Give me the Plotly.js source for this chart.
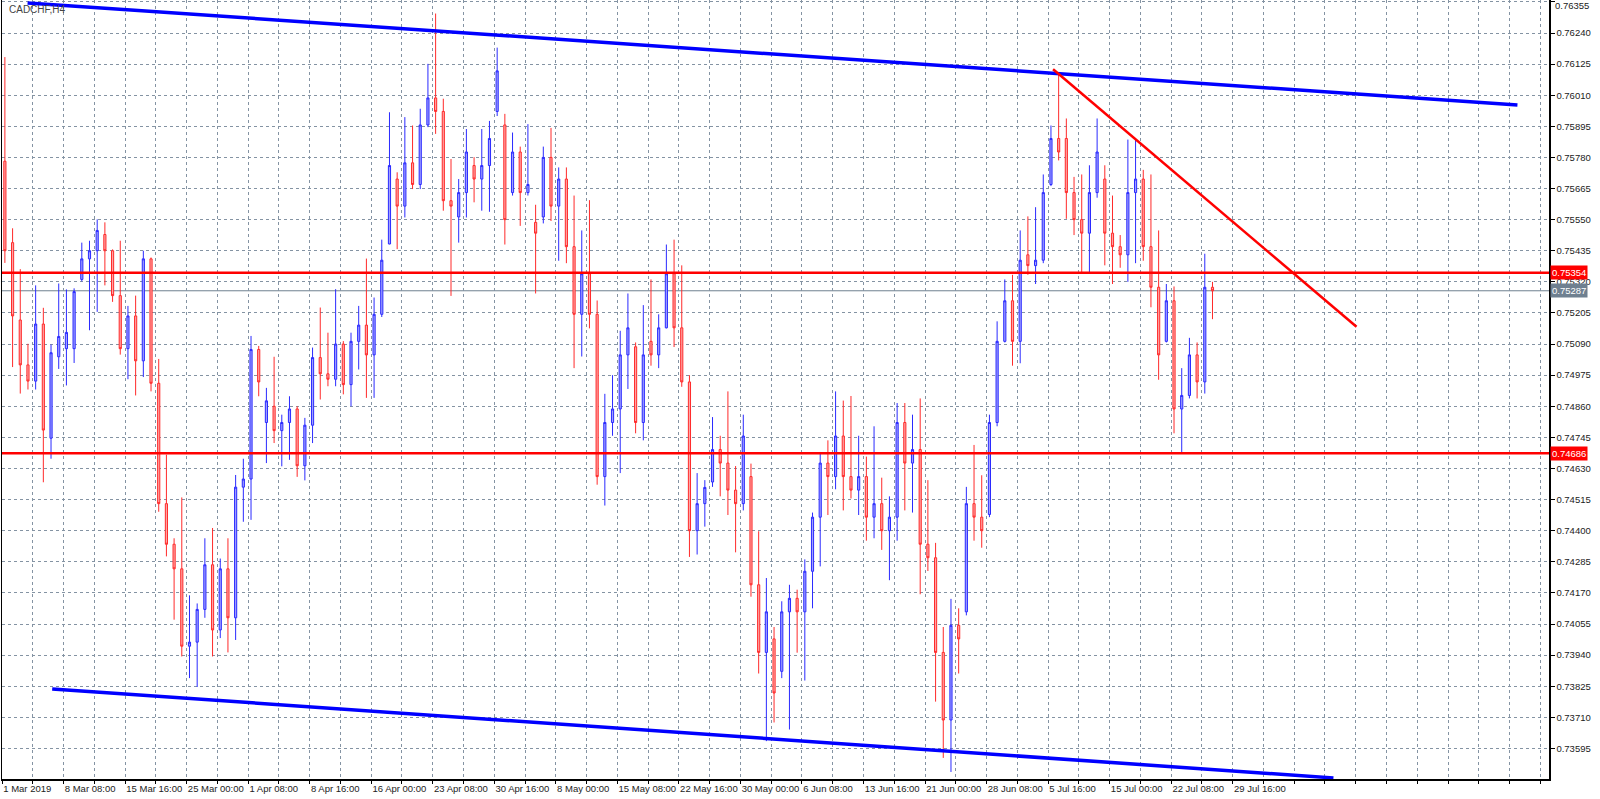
<!DOCTYPE html>
<html><head><meta charset="utf-8">
<script src="https://cdn.plot.ly/plotly-3.0.1.min.js"></script>
<style>html,body{margin:0;padding:0;background:#fff;}#chart{width:1600px;height:799px;}</style>
</head><body><div id="chart"></div>
<script>
const symbolTitle = 'CADCHF,H4';
const timeLabels = ['1 Mar 2019','8 Mar 08:00','15 Mar 16:00','25 Mar 00:00','1 Apr 08:00','8 Apr 16:00','16 Apr 00:00','23 Apr 08:00','30 Apr 16:00','8 May 00:00','15 May 08:00','22 May 16:00','30 May 00:00','6 Jun 08:00','13 Jun 16:00','21 Jun 00:00','28 Jun 08:00','5 Jul 16:00','15 Jul 00:00','22 Jul 08:00','29 Jul 16:00'];
const barsPerLabel = 32;      // H4 bars between two time labels
const barsPerCandle = 4;      // each drawn candle groups four H4 bars

const open = [
0.75766,0.75465,0.75179,0.75013,0.74953,0.75164,0.74742,0.75043,0.75073,0.75073,
0.75329,0.75405,0.75435,0.75495,0.75435,0.75269,0.75073,0.75194,0.75028,0.75405,
0.74945,0.74500,0.74350,0.74259,0.73973,0.73988,0.74109,0.74274,0.74033,0.74259,
0.74078,0.74561,0.74591,0.75070,0.74800,0.74860,0.74770,0.74800,0.74850,0.74640,
0.74790,0.75040,0.74980,0.74960,0.75090,0.74940,0.75100,0.75160,0.75050,0.75200,
0.75460,0.75700,0.75600,0.75760,0.75680,0.75900,0.76000,0.75950,0.75620,0.75560,
0.75650,0.75750,0.75700,0.75750,0.75950,0.75900,0.75650,0.75800,0.75650,0.75540,
0.75560,0.75780,0.75600,0.75700,0.75450,0.75200,0.75350,0.75200,0.74600,0.74800,
0.74850,0.75050,0.75080,0.74800,0.75100,0.75050,0.75150,0.75350,0.75150,0.74950,
0.74400,0.74500,0.74580,0.74700,0.74650,0.74550,0.74500,0.74600,0.74200,0.73950,
0.74000,0.73880,0.74100,0.74150,0.74100,0.74250,0.74450,0.74650,0.74600,0.74750,
0.74600,0.74550,0.74600,0.74450,0.74500,0.74400,0.74450,0.74800,0.74650,0.74700,
0.74350,0.74300,0.73950,0.73700,0.74050,0.74100,0.74500,0.74450,0.74460,0.74800,
0.75100,0.75250,0.75100,0.75420,0.75380,0.75400,0.75680,0.75850,0.75850,0.75650,
0.75550,0.75500,0.75650,0.75700,0.75500,0.75450,0.75420,0.75650,0.75700,0.75450,
0.75300,0.75100,0.75250,0.74850,0.74900,0.75050,0.74950,0.75300];
const high = [
0.76151,0.75518,0.75367,0.75091,0.75307,0.75224,0.75088,0.75314,0.75292,0.75296,
0.75465,0.75472,0.75551,0.75540,0.75440,0.75472,0.75231,0.75269,0.75435,0.75410,
0.75035,0.74681,0.74372,0.74523,0.74161,0.74131,0.74372,0.74410,0.74297,0.74372,
0.74606,0.74666,0.75120,0.75083,0.74928,0.75043,0.74829,0.74897,0.74860,0.74817,
0.75077,0.75225,0.75132,0.75293,0.75101,0.75132,0.75231,0.75406,0.75262,0.75476,
0.75947,0.75725,0.75929,0.75898,0.75960,0.76126,0.76312,0.75997,0.75774,0.75700,
0.75885,0.75781,0.75885,0.75915,0.76186,0.75941,0.75872,0.75820,0.75903,0.75605,
0.75820,0.75889,0.75743,0.75743,0.75639,0.75510,0.75622,0.75251,0.74906,0.74975,
0.75139,0.75277,0.75096,0.75234,0.75329,0.75200,0.75458,0.75476,0.75381,0.74975,
0.74613,0.74587,0.74820,0.74751,0.74915,0.74639,0.74829,0.74648,0.74398,0.74225,
0.74044,0.74139,0.74200,0.74182,0.74294,0.74467,0.74691,0.74734,0.74915,0.74881,
0.74898,0.74751,0.74674,0.74786,0.74596,0.74527,0.74872,0.74872,0.74829,0.74889,
0.74587,0.74355,0.74044,0.74148,0.74113,0.74562,0.74717,0.74605,0.74829,0.75174,
0.75329,0.75346,0.75510,0.75562,0.75596,0.75717,0.75898,0.76088,0.75924,0.75708,
0.75717,0.75751,0.75924,0.75751,0.75639,0.75493,0.75846,0.75846,0.75734,0.75717,
0.75510,0.75312,0.75303,0.75001,0.75113,0.75096,0.75424,0.75320];
const low = [
0.75390,0.75005,0.74907,0.74922,0.74922,0.74579,0.74666,0.74998,0.74937,0.75020,
0.75322,0.75141,0.75209,0.75307,0.75246,0.75051,0.74960,0.74900,0.74968,0.74915,
0.74470,0.74305,0.74071,0.73935,0.73855,0.73822,0.74078,0.73935,0.74003,0.73950,
0.73996,0.74433,0.74440,0.74897,0.74650,0.74724,0.74638,0.74662,0.74599,0.74586,
0.74724,0.74885,0.74934,0.74934,0.74904,0.74860,0.74996,0.74891,0.74891,0.75190,
0.75459,0.75441,0.75558,0.75663,0.75663,0.75892,0.75867,0.75583,0.75268,0.75465,
0.75558,0.75614,0.75583,0.75579,0.75933,0.75458,0.75639,0.75527,0.75639,0.75277,
0.75536,0.75545,0.75398,0.75389,0.75001,0.75044,0.75148,0.74570,0.74493,0.74751,
0.74613,0.74924,0.74760,0.74734,0.75010,0.75001,0.75148,0.75079,0.74932,0.74303,
0.74312,0.74415,0.74562,0.74527,0.74458,0.74320,0.74475,0.74156,0.73872,0.73622,
0.73691,0.73855,0.73665,0.73949,0.73846,0.74113,0.74268,0.74458,0.74553,0.74475,
0.74519,0.74458,0.74363,0.74372,0.74329,0.74217,0.74363,0.74475,0.74467,0.74165,
0.74251,0.73768,0.73560,0.73508,0.73872,0.74087,0.74363,0.74337,0.74450,0.74786,
0.75096,0.75010,0.75019,0.75346,0.75312,0.75389,0.75674,0.75769,0.75553,0.75493,
0.75355,0.75355,0.75631,0.75381,0.75312,0.75372,0.75320,0.75389,0.75398,0.75226,
0.74958,0.75096,0.74760,0.74691,0.74889,0.74889,0.74907,0.75182];
const close = [
0.75435,0.75194,0.75013,0.74953,0.75164,0.74772,0.75058,0.75118,0.75133,0.75284,
0.75405,0.75435,0.75510,0.75435,0.75269,0.75073,0.75194,0.75028,0.75405,0.74945,
0.74500,0.74350,0.74259,0.73973,0.73988,0.74109,0.74274,0.74033,0.74259,0.74078,
0.74561,0.74591,0.75070,0.74950,0.74880,0.74770,0.74800,0.74850,0.74640,0.74790,
0.75040,0.74980,0.74960,0.75090,0.74940,0.75100,0.75160,0.75050,0.75200,0.75400,
0.75750,0.75600,0.75760,0.75680,0.75900,0.76000,0.75950,0.75620,0.75600,0.75650,
0.75800,0.75700,0.75750,0.75850,0.76100,0.75550,0.75800,0.75650,0.75680,0.75500,
0.75780,0.75600,0.75700,0.75450,0.75200,0.75350,0.75200,0.74600,0.74800,0.74850,
0.75050,0.75150,0.74800,0.75050,0.75050,0.75150,0.75350,0.75150,0.74950,0.74400,
0.74500,0.74560,0.74700,0.74650,0.74550,0.74500,0.74750,0.74200,0.73950,0.74100,
0.73800,0.74100,0.74150,0.74100,0.74250,0.74450,0.74650,0.74600,0.74750,0.74600,
0.74550,0.74600,0.74450,0.74500,0.74400,0.74450,0.74800,0.74650,0.74700,0.74350,
0.74300,0.73950,0.73700,0.74050,0.74000,0.74500,0.74450,0.74400,0.74800,0.75100,
0.75250,0.75100,0.75400,0.75380,0.75400,0.75650,0.75850,0.75800,0.75650,0.75550,
0.75500,0.75650,0.75800,0.75500,0.75450,0.75420,0.75650,0.75700,0.75450,0.75300,
0.75050,0.75250,0.74850,0.74900,0.75050,0.74950,0.75300,0.75287];

const priceTicks = [0.73595,0.73710,0.73825,0.73940,0.74055,0.74170,0.74285,0.74400,0.74515,0.74630,0.74745,0.74860,0.74975,0.75090,0.75205,0.75320,0.75435,0.75550,0.75665,0.75780,0.75895,0.76010,0.76125,0.76240,0.76355];
const levelLines = [0.75354, 0.74686];
const bidPrice = 0.75287;
// trend lines: [bar index], [price]
const upperChannelX = [13.3, 788.1];
const upperChannelY = [0.76351, 0.75974];
const lowerChannelX = [26.1, 692.4];
const lowerChannelY = [0.73815, 0.73486];
const redTrendX = [546.6, 704.4];
const redTrendY = [0.76106, 0.75154];

const candleX = open.map((_, i) => i * barsPerCandle + 1.5);

const gridTickVals = [], gridTickText = [];
for (let k = 0; k <= 50; k++) {
  gridTickVals.push(k * barsPerLabel / 2);
  gridTickText.push(k % 2 === 0 && timeLabels[k / 2] ? timeLabels[k / 2] : '');
}
// the top price label sits at the very edge: it is drawn as an annotation below
const topPrice = priceTicks[priceTicks.length - 1];
const priceTickText = priceTicks.map(v => v === topPrice ? '' : v.toFixed(5));

const gridColor = '#8493a3';
const fontFam = 'Liberation Sans, Arial, sans-serif';

const traces = [
  {
    type: 'candlestick', x: candleX, open: open, high: high, low: low, close: close,
    increasing: {line: {color: '#2a2aff', width: 1}, fillcolor: '#a0a0ff'},
    decreasing: {line: {color: '#ff2a2a', width: 1}, fillcolor: '#ffa4a4'},
    whiskerwidth: 0, hoverinfo: 'skip', showlegend: false
  },
  {type: 'scatter', mode: 'lines', x: upperChannelX, y: upperChannelY, line: {color: '#0000ff', width: 3.5}, hoverinfo: 'skip', showlegend: false},
  {type: 'scatter', mode: 'lines', x: lowerChannelX, y: lowerChannelY, line: {color: '#0000ff', width: 3.5}, hoverinfo: 'skip', showlegend: false},
  {type: 'scatter', mode: 'lines', x: redTrendX, y: redTrendY, line: {color: '#ff0000', width: 2.5}, hoverinfo: 'skip', showlegend: false}
];

const shapes = levelLines.map(v => ({type: 'line', xref: 'paper', x0: 0, x1: 1, yref: 'y', y0: v, y1: v, line: {color: '#ff0000', width: 2.5}, layer: 'above'}));
shapes.push({type: 'line', xref: 'paper', x0: 0, x1: 1, yref: 'y', y0: bidPrice, y1: bidPrice, line: {color: '#6f8090', width: 1}, layer: 'below'});

const annotations = [
  {text: symbolTitle, xref: 'paper', yref: 'paper', x: 0, y: 1, xanchor: 'left', yanchor: 'top', xshift: 5, yshift: -2, showarrow: false, font: {family: fontFam, size: 10, color: '#444'}},
  {text: topPrice.toFixed(5), xref: 'paper', yref: 'paper', x: 1, y: 1, xanchor: 'left', yanchor: 'top', xshift: 5, yshift: 1, showarrow: false, borderpad: 0, font: {family: fontFam, size: 9.5, color: '#222'}}
];
levelLines.forEach(v => annotations.push({text: v.toFixed(5), xref: 'paper', x: 1, xanchor: 'left', xshift: 1, yref: 'y', y: v, showarrow: false, bgcolor: '#ff0000', borderpad: 1, font: {family: fontFam, size: 9.5, color: '#ffffff'}}));
annotations.push({text: bidPrice.toFixed(5), xref: 'paper', x: 1, xanchor: 'left', xshift: 1, yref: 'y', y: bidPrice, showarrow: false, bgcolor: '#6f8090', borderpad: 1, font: {family: fontFam, size: 9.5, color: '#ffffff'}});

const layout = {
  width: 1600, height: 799,
  margin: {l: 2, r: 51, t: 0, b: 20, pad: 0},
  paper_bgcolor: '#ffffff', plot_bgcolor: '#ffffff',
  boxgap: 0.6,
  showlegend: false,
  xaxis: {
    range: [0, 804.5], rangeslider: {visible: false},
    tickmode: 'array', tickvals: gridTickVals, ticktext: gridTickText,
    ticklabelposition: 'outside right', tickangle: 0,
    ticks: 'outside', ticklen: 3, tickcolor: '#000',
    tickfont: {family: fontFam, size: 9.5, color: '#222'},
    showgrid: true, gridcolor: gridColor, griddash: '3px,3px', gridwidth: 1,
    showline: true, linecolor: '#000', linewidth: 1.5, zeroline: false, fixedrange: true
  },
  yaxis: {
    side: 'right', range: [0.73482, 0.76362],
    tickmode: 'array', tickvals: priceTicks, ticktext: priceTickText,
    ticks: 'outside', ticklen: 4, tickcolor: '#000',
    tickfont: {family: fontFam, size: 9.5, color: '#222'},
    showgrid: true, gridcolor: gridColor, griddash: '3px,3px', gridwidth: 1,
    showline: true, mirror: true, linecolor: '#000', linewidth: 1.5, zeroline: false, fixedrange: true
  },
  shapes: shapes,
  annotations: annotations
};

Plotly.newPlot('chart', traces, layout, {displayModeBar: false, staticPlot: true});
</script>
</body></html>
